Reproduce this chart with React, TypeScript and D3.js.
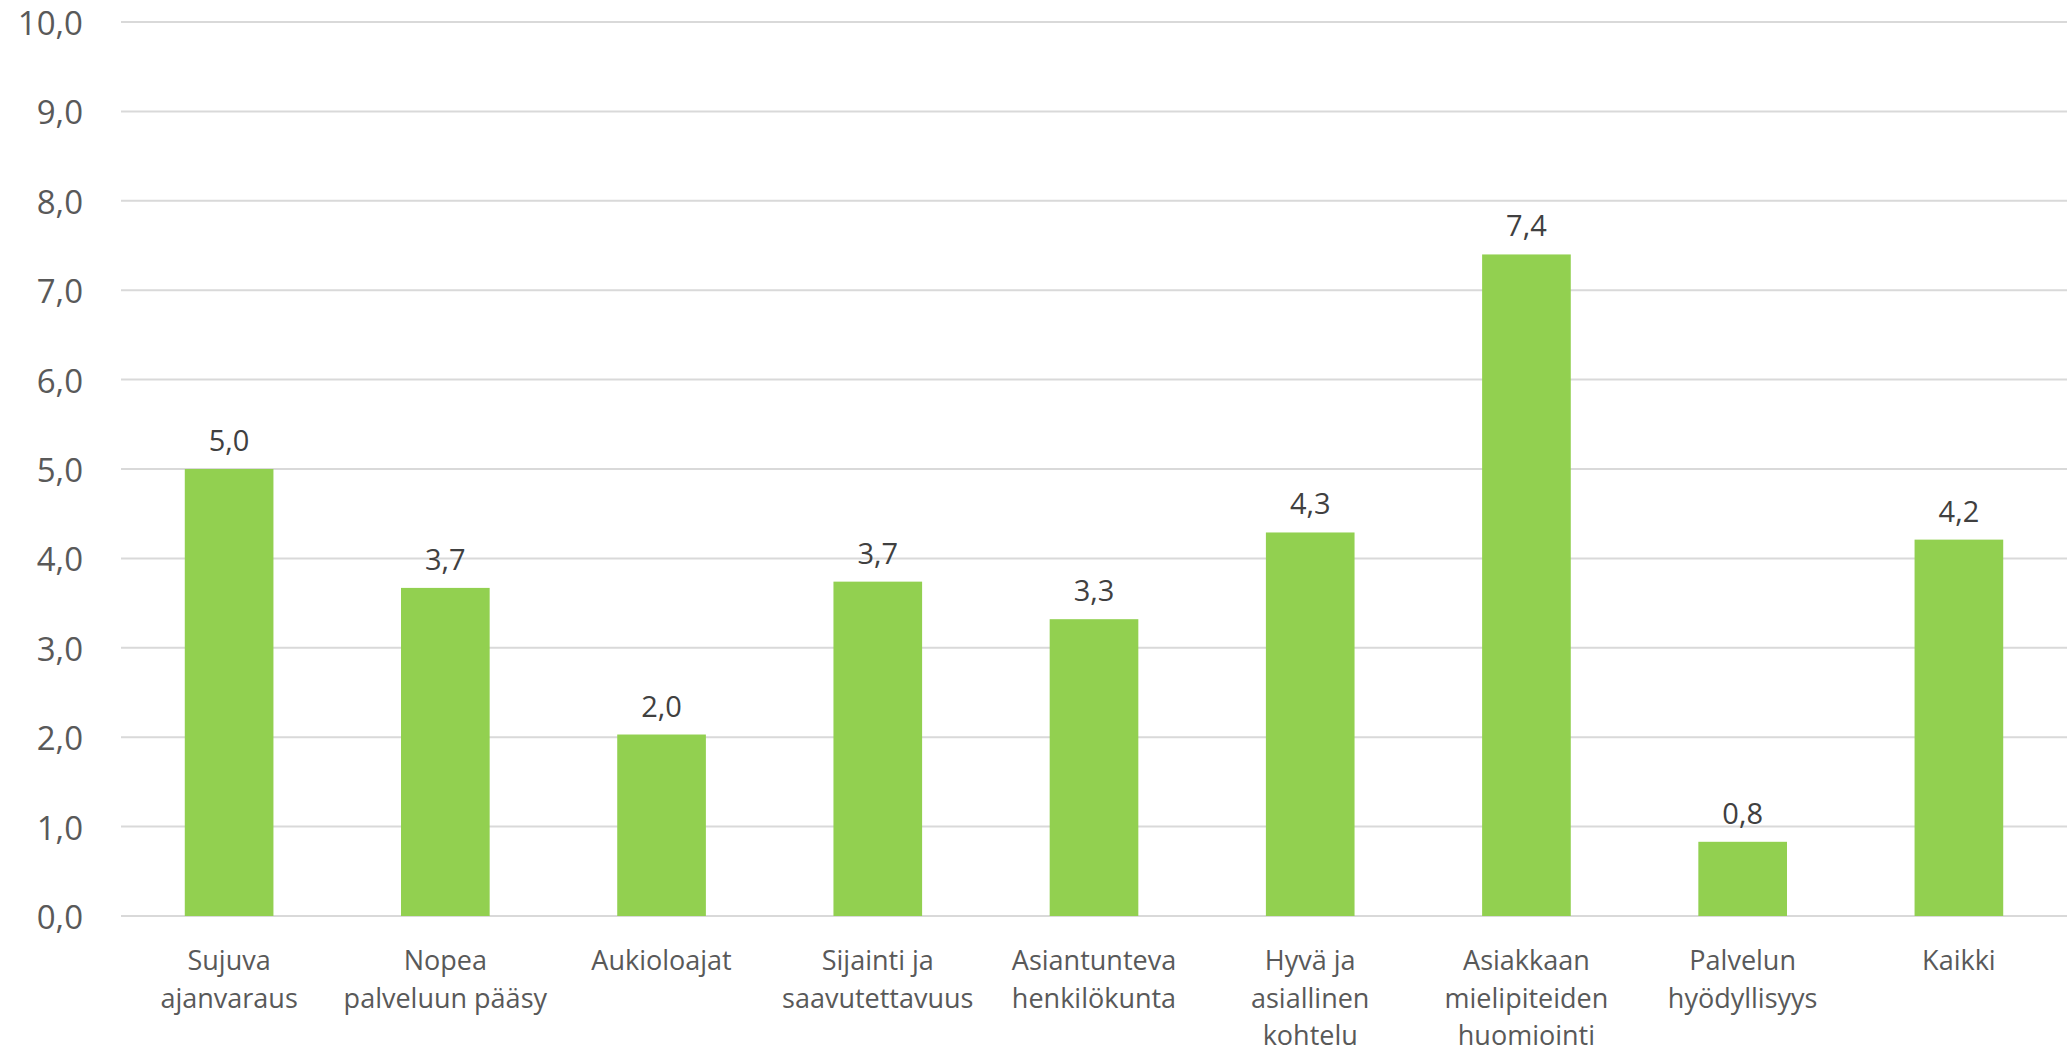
import React from "react";
import * as d3 from "d3";

const categories: string[][] = [
  ["Sujuva", "ajanvaraus"],
  ["Nopea", "palveluun pääsy"],
  ["Aukioloajat"],
  ["Sijainti ja", "saavutettavuus"],
  ["Asiantunteva", "henkilökunta"],
  ["Hyvä ja", "asiallinen", "kohtelu"],
  ["Asiakkaan", "mielipiteiden", "huomiointi"],
  ["Palvelun", "hyödyllisyys"],
  ["Kaikki"],
];
const values: number[] = [5.0, 3.67, 2.03, 3.74, 3.32, 4.29, 7.4, 0.83, 4.21];
const yTicks: number[] = [0, 1, 2, 3, 4, 5, 6, 7, 8, 9, 10];

const W = 2067;
const H = 1052;
const M = { left: 121, right: 0, top: 22, bottom: 136 };
const FONT = "'Open Sans', 'Noto Sans', sans-serif";

const fmt = (v: number) => d3.format(".1f")(v).replace(".", ",");

export default function App() {
  const keys = categories.map((c) => c.join(" "));
  const x = d3
    .scaleBand<string>()
    .domain(keys)
    .range([M.left, W - M.right])
    .padding(0);
  const y = d3.scaleLinear().domain([0, 10]).range([H - M.bottom, M.top]);
  const barW = x.bandwidth() * 0.41;

  return (
    <svg
      width={W}
      height={H}
      style={{ position: "absolute", left: 0, top: 0, background: "#fff" }}
      fontFamily={FONT}
    >
      {yTicks.map((t) => (
        <g key={t}>
          <line
            x1={M.left}
            x2={W - M.right}
            y1={y(t)}
            y2={y(t)}
            stroke="#d9d9d9"
            strokeWidth={2}
          />
          <text
            x={83}
            y={y(t) + 13}
            textAnchor="end"
            fontSize={33}
            fill="#595959"
          >
            {fmt(t)}
          </text>
        </g>
      ))}
      {values.map((v, i) => {
        const cx = (x(keys[i]) as number) + x.bandwidth() / 2;
        return (
          <g key={i}>
            <rect
              x={cx - barW / 2}
              width={barW}
              y={y(v)}
              height={y(0) - y(v)}
              fill="#92D050"
            />
            <text
              x={cx}
              y={y(v) - 18}
              textAnchor="middle"
              fontSize={29}
              fill="#404040"
            >
              {fmt(v)}
            </text>
            {categories[i].map((line, j) => (
              <text
                key={j}
                x={cx}
                y={970 + j * 37.5}
                textAnchor="middle"
                fontSize={27}
                fill="#595959"
              >
                {line}
              </text>
            ))}
          </g>
        );
      })}
    </svg>
  );
}
